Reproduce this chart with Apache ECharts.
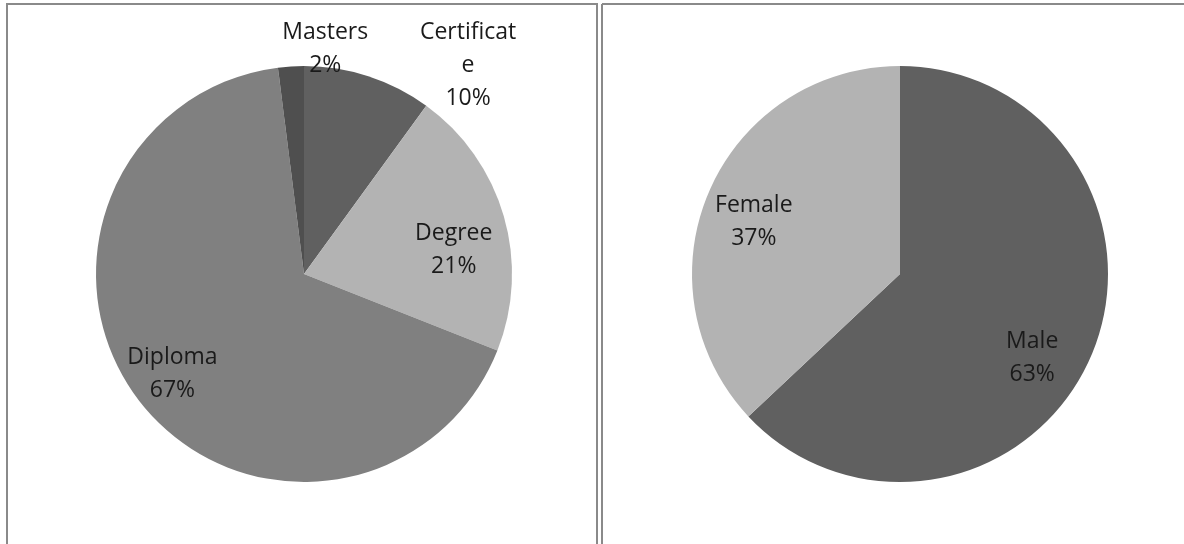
<!DOCTYPE html>
<html>
<head>
<meta charset="utf-8">
<script src="https://cdn.jsdelivr.net/npm/echarts@6/dist/echarts.min.js"></script>
<style>
html,body{margin:0;padding:0;background:#fff;}
#chart{width:1184px;height:544px;}
</style>
</head>
<body>
<div id="chart"></div>
<script>
// Data
const eduCategories = ['Certificate', 'Degree', 'Diploma', 'Masters'];
const eduValues = [10, 21, 67, 2];
const eduColors = ['#606060', '#b3b3b3', '#808080', '#4f4f4f'];
const genderCategories = ['Male', 'Female'];
const genderValues = [63, 37];
const genderColors = ['#606060', '#b3b3b3'];

// label offsets from the default inside position (styling only)
const eduLabelShift = [[131, -107], [47, 6], [-47, 34], [28, -118]];
const genderLabelShift = [[34, 41], [-48, -10]];

const chart = echarts.init(document.getElementById('chart'));
const fontFamily = '"Open Sans", "Noto Sans", sans-serif';

function labelCfg() {
  return {
    show: true,
    position: 'inside',
    formatter: p => p.name + '\n' + Math.round(p.percent) + '%',
    color: '#1a1a1a',
    fontFamily: fontFamily,
    fontSize: 23,
    lineHeight: 33,
    width: 104,
    overflow: 'breakAll',
    align: 'center'
  };
}

const lineStyle = { stroke: '#8a8a8a', lineWidth: 2 };

chart.setOption({
  animation: false,
  backgroundColor: '#ffffff',
  graphic: [
    { type: 'line', shape: { x1: 6, y1: 4, x2: 598, y2: 4 }, style: lineStyle },
    { type: 'line', shape: { x1: 7, y1: 4, x2: 7, y2: 544 }, style: lineStyle },
    { type: 'line', shape: { x1: 597, y1: 4, x2: 597, y2: 544 }, style: lineStyle },
    { type: 'line', shape: { x1: 602, y1: 4, x2: 602, y2: 544 }, style: lineStyle },
    { type: 'line', shape: { x1: 602, y1: 4, x2: 1184, y2: 4 }, style: lineStyle }
  ],
  series: [
    {
      type: 'pie',
      center: [304, 274],
      radius: [0, 208],
      startAngle: 90,
      clockwise: true,
      silent: true,
      labelLine: { show: false },
      label: labelCfg(),
      labelLayout: p => ({ dx: eduLabelShift[p.dataIndex][0], dy: eduLabelShift[p.dataIndex][1] }),
      itemStyle: { borderWidth: 0 },
      data: eduCategories.map((c, i) => ({ name: c, value: eduValues[i], itemStyle: { color: eduColors[i] } }))
    },
    {
      type: 'pie',
      center: [900, 274],
      radius: [0, 208],
      startAngle: 90,
      clockwise: true,
      silent: true,
      labelLine: { show: false },
      label: labelCfg(),
      labelLayout: p => ({ dx: genderLabelShift[p.dataIndex][0], dy: genderLabelShift[p.dataIndex][1] }),
      itemStyle: { borderWidth: 0 },
      data: genderCategories.map((c, i) => ({ name: c, value: genderValues[i], itemStyle: { color: genderColors[i] } }))
    }
  ]
});
</script>
</body>
</html>
